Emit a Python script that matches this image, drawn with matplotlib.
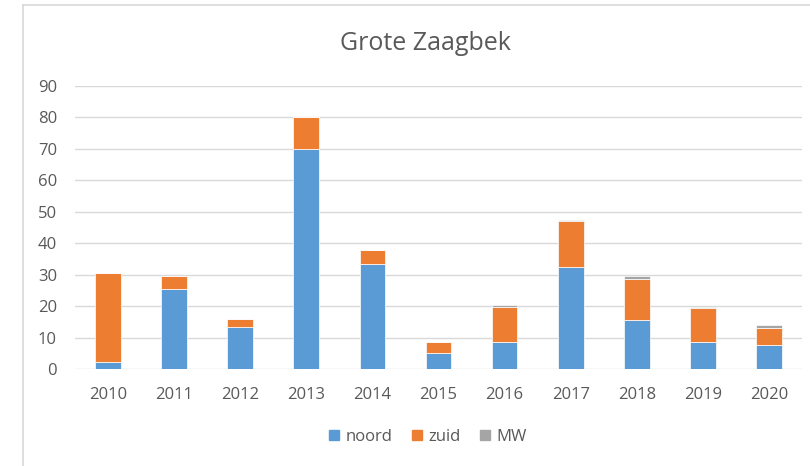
import matplotlib
matplotlib.use("Agg")
import matplotlib.pyplot as plt
from matplotlib.lines import Line2D
import numpy as np

years = ["2010", "2011", "2012", "2013", "2014", "2015", "2016", "2017", "2018", "2019", "2020"]
noord = [2.2, 25.5, 13.5, 70, 33.5, 5.2, 8.6, 32.5, 15.6, 8.6, 7.5]
zuid = [28.3, 4.0, 2.4, 10, 4.3, 3.3, 11.0, 14.7, 13.0, 10.7, 5.4]
mw = [0, 0, 0, 0, 0, 0, 0.6, 0.2, 1.1, 0.4, 1.0]
series_names = ["noord", "zuid", "MW"]
yticks = [0, 10, 20, 30, 40, 50, 60, 70, 80, 90]

colors = ["#5B9BD5", "#ED7D31", "#A5A5A5"]
txt = "#595959"
font = "Open Sans"

fig = plt.figure(figsize=(8.10, 4.66), dpi=100)
ax = fig.add_axes([75/810, 1 - 369/466, 727/810, (369 - 86)/466])

x = np.arange(len(years))
w = 0.39
bottom = np.zeros(len(years))
for vals, c, name in zip([noord, zuid, mw], colors, series_names):
    ax.bar(x, vals, w, bottom=bottom, color=c, edgecolor="white", linewidth=0.5, label=name, zorder=3)
    bottom += np.array(vals)

ax.set_xlim(-0.5, len(years) - 0.5)
ax.set_ylim(0, 90)
ax.set_yticks(yticks)
ax.set_xticks(x)
ax.set_xticklabels(years)
ax.yaxis.grid(True, color="#D9D9D9", linewidth=1.0, zorder=0)
for s in ax.spines.values():
    s.set_visible(False)
ax.tick_params(axis="both", length=0, colors=txt, labelsize=12)
ax.tick_params(axis="y", pad=13)
ax.tick_params(axis="x", pad=13)
for lab in ax.get_xticklabels() + ax.get_yticklabels():
    lab.set_fontfamily(font)

fig.text(425/810, 1 - 43/466, "Grote Zaagbek", ha="center", va="center",
         fontsize=18, color=txt, family=font)

handles = [plt.Rectangle((0, 0), 1, 1, color=c) for c in colors]
leg = fig.legend(handles, series_names, loc="center", bbox_to_anchor=(428/810, 1 - 437/466),
                 ncol=3, frameon=False, handlelength=0.6, handleheight=0.6,
                 handletextpad=0.35, columnspacing=1.2,
                 prop={"family": font, "size": 12})
for t in leg.get_texts():
    t.set_color(txt)

# chart frame
fig.add_artist(Line2D([23/810, 23/810], [0, 1 - 5/466], color="#D9D9D9", linewidth=1.2))
fig.add_artist(Line2D([23/810, 1], [1 - 5/466, 1 - 5/466], color="#D9D9D9", linewidth=1.2))

fig.savefig("out.png", dpi=100)
